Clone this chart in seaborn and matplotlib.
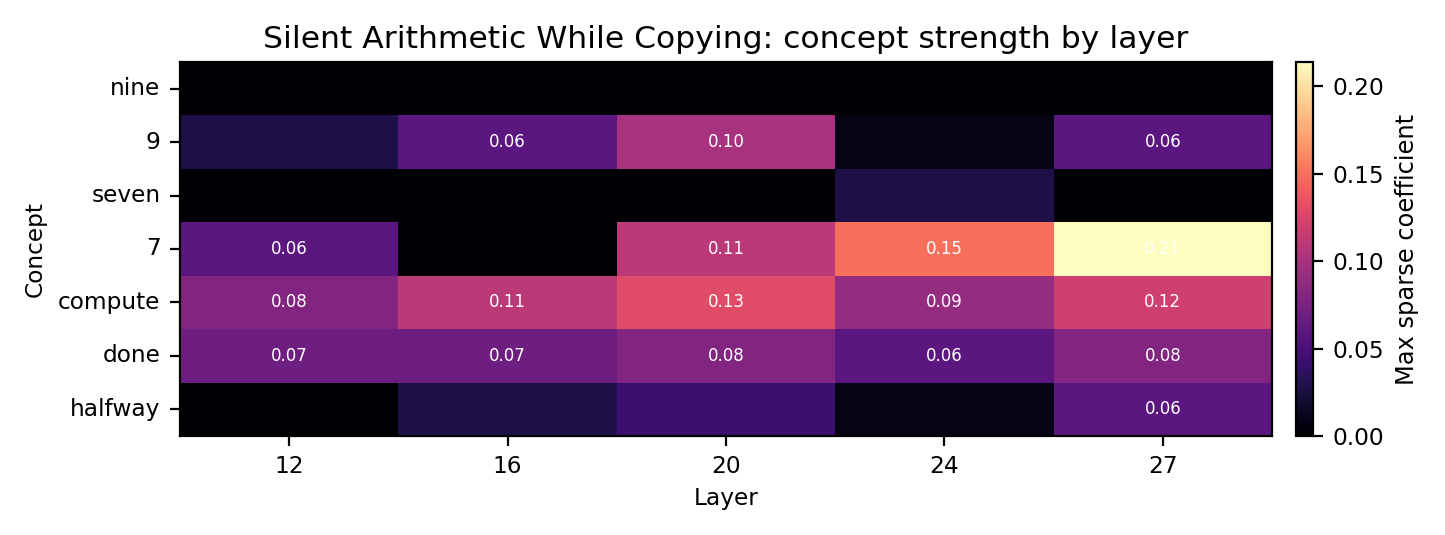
import numpy as np
import pandas as pd
import matplotlib
matplotlib.use("Agg")
import matplotlib.pyplot as plt
import seaborn as sns

# Layers and concepts
layers = [12, 16, 20, 24, 27]
concepts = ["nine", "9", "seven", "7", "compute", "done", "halfway"]

# Max sparse coefficient per concept, per layer
nine = [0.0, 0.0, 0.0, 0.0, 0.0]
nine_digit = [0.027, 0.06, 0.10, 0.008, 0.06]
seven = [0.0, 0.0, 0.0, 0.027, 0.0]
seven_digit = [0.06, 0.0, 0.11, 0.15, 0.214]
compute = [0.08, 0.11, 0.13, 0.09, 0.12]
done = [0.07, 0.07, 0.08, 0.06, 0.08]
halfway = [0.0, 0.028, 0.043, 0.008, 0.06]

df = pd.DataFrame(
    [nine, nine_digit, seven, seven_digit, compute, done, halfway],
    index=concepts, columns=layers
)

# only label the cells that are big enough to matter
labels = df.map(lambda v: f"{v:.2f}" if v >= 0.05 else "")

fig = plt.figure(figsize=(7.225, 2.675), dpi=200)
ax = fig.add_axes([180 / 1445, 99 / 535, 1092 / 1445, 374 / 535])
cax = fig.add_axes([1296 / 1445, 99 / 535, 17 / 1445, 374 / 535])

sns.heatmap(
    df,
    ax=ax,
    cbar_ax=cax,
    cmap="magma",
    vmin=0,
    vmax=df.values.max(),
    annot=labels,
    fmt="",
    annot_kws={"size": 6, "color": "white"},
    cbar_kws={"label": "Max sparse coefficient"},
)

# put the frame back that seaborn removes
for s in ax.spines.values():
    s.set_visible(True)
    s.set_linewidth(0.8)
cbar = ax.collections[0].colorbar
cbar.outline.set_visible(True)
cbar.outline.set_linewidth(0.8)
cbar.set_ticks([0.0, 0.05, 0.10, 0.15, 0.20])
cbar.ax.tick_params(labelsize=8.4)
cbar.set_label("Max sparse coefficient", fontsize=8.7)

ax.set_title("Silent Arithmetic While Copying: concept strength by layer", fontsize=11.3, pad=5)
ax.set_xlabel("Layer", fontsize=8.4, labelpad=3)
ax.set_ylabel("Concept", fontsize=8.4)
ax.tick_params(labelsize=8.4)
ax.set_yticklabels(concepts, rotation=0)
ax.set_xticklabels([str(l) for l in layers], rotation=0)

fig.savefig("out.png", dpi=200)
